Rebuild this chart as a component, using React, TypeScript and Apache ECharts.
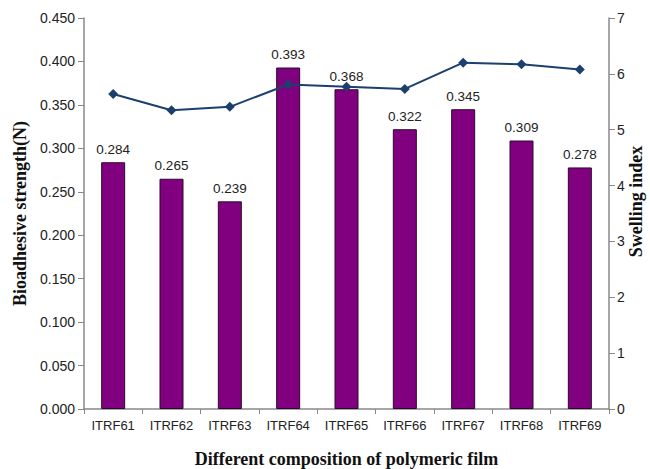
import React, { useEffect, useRef } from "react";
import * as echarts from "echarts";

const categories = ["ITRF61", "ITRF62", "ITRF63", "ITRF64", "ITRF65", "ITRF66", "ITRF67", "ITRF68", "ITRF69"];
const bioadhesive = [0.284, 0.265, 0.239, 0.393, 0.368, 0.322, 0.345, 0.309, 0.278];
const swelling = [5.64, 5.35, 5.41, 5.81, 5.77, 5.73, 6.2, 6.17, 6.08];

export default function App() {
  const ref = useRef<HTMLDivElement>(null);
  useEffect(() => {
    const chart = echarts.init(ref.current!, null, { renderer: "svg" });
    const axisLine = { show: true, lineStyle: { color: "#888", width: 1.5 } };
    const titleStyle = { fontFamily: "Liberation Serif, Times New Roman", fontWeight: "bold", fontSize: 18, color: "#111" };
    chart.setOption({
      animation: false,
      backgroundColor: "#fff",
      grid: { left: 84, right: 41, top: 18, bottom: 60, outerBoundsMode: "none", containLabel: false },
      xAxis: {
        type: "category",
        data: categories,
        axisLine,
        axisTick: { show: true, alignWithLabel: false, length: 5, lineStyle: { color: "#888" } },
        axisLabel: { color: "#222", fontFamily: "Liberation Sans, Arial", fontSize: 13, margin: 10, interval: 0, hideOverlap: false },
        name: "Different composition of polymeric film",
        nameLocation: "middle",
        nameGap: 41,
        nameMoveOverlap: false,
        nameTextStyle: titleStyle,
      },
      yAxis: [
        {
          type: "value",
          min: 0,
          max: 0.45,
          interval: 0.05,
          axisLine,
          axisTick: { show: true, length: 6, lineStyle: { color: "#888" } },
          splitLine: { show: false },
          axisLabel: {
            color: "#222",
            fontFamily: "Liberation Sans, Arial",
            fontSize: 14,
            margin: 9,
            formatter: (v: number) => v.toFixed(3),
          },
          name: "Bioadhesive strength(N)",
          nameLocation: "middle",
          nameGap: 55,
          nameMoveOverlap: false,
          nameTextStyle: titleStyle,
        },
        {
          type: "value",
          min: 0,
          max: 7,
          interval: 1,
          axisLine,
          axisTick: { show: true, length: 6, lineStyle: { color: "#888" } },
          splitLine: { show: false },
          axisLabel: { color: "#222", fontFamily: "Liberation Sans, Arial", fontSize: 14, margin: 8 },
          name: "Swelling index",
          nameLocation: "middle",
          nameGap: 18,
          nameRotate: 90,
          nameMoveOverlap: false,
          nameTextStyle: { ...titleStyle, padding: [0, 0, 0, 24] },
        },
      ],
      series: [
        {
          type: "bar",
          data: bioadhesive,
          yAxisIndex: 0,
          barWidth: 24,
          itemStyle: { color: "#800080", borderColor: "#2a0a2a", borderWidth: 1 },
          label: {
            show: true,
            position: "top",
            distance: 6,
            color: "#222",
            fontFamily: "Liberation Sans, Arial",
            fontSize: 13.5,
            formatter: (p: any) => p.value.toFixed(3),
          },
        },
        {
          type: "line",
          data: swelling,
          yAxisIndex: 1,
          symbol: "diamond",
          symbolSize: 10,
          lineStyle: { color: "#1c3f6e", width: 2 },
          itemStyle: { color: "#1c3f6e" },
          z: 5,
        },
      ],
    });
    return () => chart.dispose();
  }, []);
  return <div ref={ref} style={{ width: 650, height: 469, position: "absolute", left: 0, top: 0 }} />;
}
